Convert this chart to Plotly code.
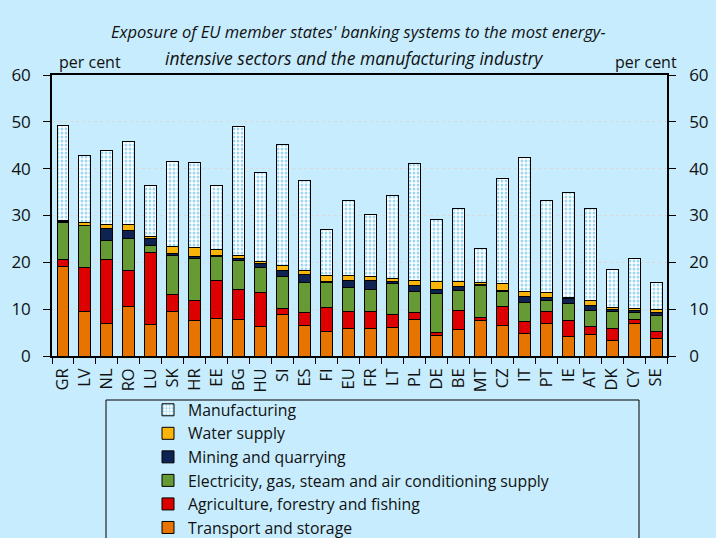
import plotly.graph_objects as go

countries = ["GR", "LV", "NL", "RO", "LU", "SK", "HR", "EE", "BG", "HU", "SI", "ES", "FI", "EU",
             "FR", "LT", "PL", "DE", "BE", "MT", "CZ", "IT", "PT", "IE", "AT", "DK", "CY", "SE"]

transport = [19.1, 9.4, 7.0, 10.6, 6.8, 9.5, 7.5, 8.0, 7.8, 6.3, 8.8, 6.6, 5.3, 5.8,
             5.8, 6.1, 7.8, 4.4, 5.6, 7.5, 6.6, 4.9, 6.9, 4.1, 4.6, 3.4, 7.0, 3.8]
agriculture = [1.6, 9.4, 13.7, 7.7, 15.3, 3.6, 4.3, 8.2, 6.3, 7.2, 1.4, 2.7, 5.1, 3.7,
               3.8, 2.8, 1.5, 0.7, 4.2, 0.8, 3.9, 2.4, 2.7, 3.4, 1.7, 2.5, 0.9, 1.5]
electricity = [7.8, 9.0, 3.9, 6.8, 1.6, 8.4, 9.1, 5.0, 6.3, 5.5, 6.8, 6.4, 5.2, 5.2,
               4.7, 6.6, 4.5, 8.2, 4.2, 6.7, 3.2, 4.2, 2.2, 3.8, 3.5, 3.6, 1.4, 3.4]
mining = [0.3, 0.1, 2.6, 1.8, 1.3, 0.4, 0.4, 0.3, 0.5, 0.7, 1.2, 1.8, 0.3, 1.4,
          1.9, 0.4, 1.2, 0.8, 0.8, 0.3, 0.3, 1.1, 0.6, 0.9, 1.0, 0.5, 0.4, 0.6]
water = [0.2, 0.5, 0.9, 1.1, 0.6, 1.5, 1.8, 1.2, 0.5, 0.5, 1.1, 0.8, 1.2, 1.0,
         0.7, 0.7, 1.2, 1.9, 1.1, 0.4, 1.4, 1.1, 1.1, 0.3, 1.0, 0.3, 0.4, 0.7]
manufacturing = [20.3, 14.4, 15.7, 17.7, 10.7, 18.1, 18.3, 13.8, 27.5, 19.0, 25.8, 19.1, 10.0, 16.0,
                 13.4, 17.7, 24.9, 13.1, 15.5, 7.2, 22.5, 28.7, 19.6, 22.5, 19.6, 8.1, 10.8, 5.6]

y_ticks = [0, 10, 20, 30, 40, 50, 60]

BG = "#C6ECFD"
FONT = "'Open Sans', Lato, sans-serif"

series = [
    ("Transport and storage", transport, "#E87400"),
    ("Agriculture, forestry and fishing", agriculture, "#DC0000"),
    ("Electricity, gas, steam and air conditioning supply", electricity, "#669A35"),
    ("Mining and quarrying", mining, "#0F2352"),
    ("Water supply", water, "#FBB40A"),
]

fig = go.Figure()
for name, vals, col in series:
    fig.add_trace(go.Bar(x=countries, y=vals, name=name,
                         marker=dict(color=col, line=dict(color="black", width=1))))
fig.add_trace(go.Bar(x=countries, y=manufacturing, name="Manufacturing",
                     marker=dict(color="white", line=dict(color="black", width=1),
                                 pattern=dict(shape=".", fgcolor="#3AB0E6", bgcolor="white",
                                              size=4, solidity=0.45))))
# invisible helper so the right-hand axis is drawn
fig.add_trace(go.Scatter(x=countries, y=manufacturing, yaxis="y2", mode="markers",
                         marker=dict(opacity=0), showlegend=False, hoverinfo="skip"))

W, H = 716, 538
L, R, T, B = 52, 49, 75, 182
pw, ph = W - L - R, H - T - B

def px(xp):
    return (xp - L) / pw

def py(yp):
    return (H - B - yp) / ph

fig.update_layout(
    width=W, height=H,
    margin=dict(l=L, r=R, t=T, b=B, autoexpand=False),
    paper_bgcolor=BG, plot_bgcolor=BG,
    barmode="stack", bargap=0.455,
    font=dict(family=FONT, size=16, color="#111111"),
    showlegend=True,
    legend=dict(traceorder="reversed", x=px(148), xanchor="left", y=py(393), yanchor="top",
                bgcolor="rgba(0,0,0,0)", borderwidth=0, font=dict(size=15.8),
                tracegroupgap=0, itemclick=False),
    xaxis=dict(range=[-0.5, len(countries) - 0.5], tickangle=-90, showline=True,
               linecolor="black", linewidth=1.5, mirror=True,
               ticks="outside", tickson="boundaries", ticklen=6, tickcolor="black",
               tickfont=dict(size=16.5), ticklabelstandoff=4, showgrid=False),
    yaxis=dict(range=[0, 60], tickvals=y_ticks, showline=True, linecolor="black", linewidth=1.5,
               ticks="outside", ticklen=7, tickcolor="black", tickfont=dict(size=17),
               ticklabelstandoff=9,
               showgrid=True, gridcolor="#DADADA", griddash="dot", gridwidth=1,
               zeroline=False),
    yaxis2=dict(range=[0, 60], tickvals=y_ticks, overlaying="y", side="right", showline=True,
                linecolor="black", linewidth=1.5, ticks="outside", ticklen=7, tickcolor="black",
                tickfont=dict(size=17), ticklabelstandoff=10, showgrid=False, zeroline=False),
    annotations=[
        dict(text="<i>Exposure of EU member states' banking systems to the most energy-</i>",
             xref="paper", yref="paper", x=px(358), y=py(31), showarrow=False,
             font=dict(size=16.5), xanchor="center", yanchor="middle"),
        dict(text="<i>intensive sectors and the manufacturing industry</i>",
             xref="paper", yref="paper", x=px(354), y=py(58), showarrow=False,
             font=dict(size=17.5), xanchor="center", yanchor="middle"),
        dict(text="per cent", xref="paper", yref="paper", x=px(57), y=py(62),
             showarrow=False, xanchor="left", yanchor="middle", font=dict(size=16)),
        dict(text="per cent", xref="paper", yref="paper", x=px(679), y=py(62),
             showarrow=False, xanchor="right", yanchor="middle", font=dict(size=16)),
    ],
    shapes=[
        dict(type="rect", xref="paper", yref="paper", x0=px(106), x1=px(639),
             y0=py(400), y1=py(580), line=dict(color="black", width=1), fillcolor="rgba(0,0,0,0)",
             layer="above"),
    ],
)

fig.write_html("out.html", config={"displayModeBar": False},
               post_script="document.body.style.margin='0';")
